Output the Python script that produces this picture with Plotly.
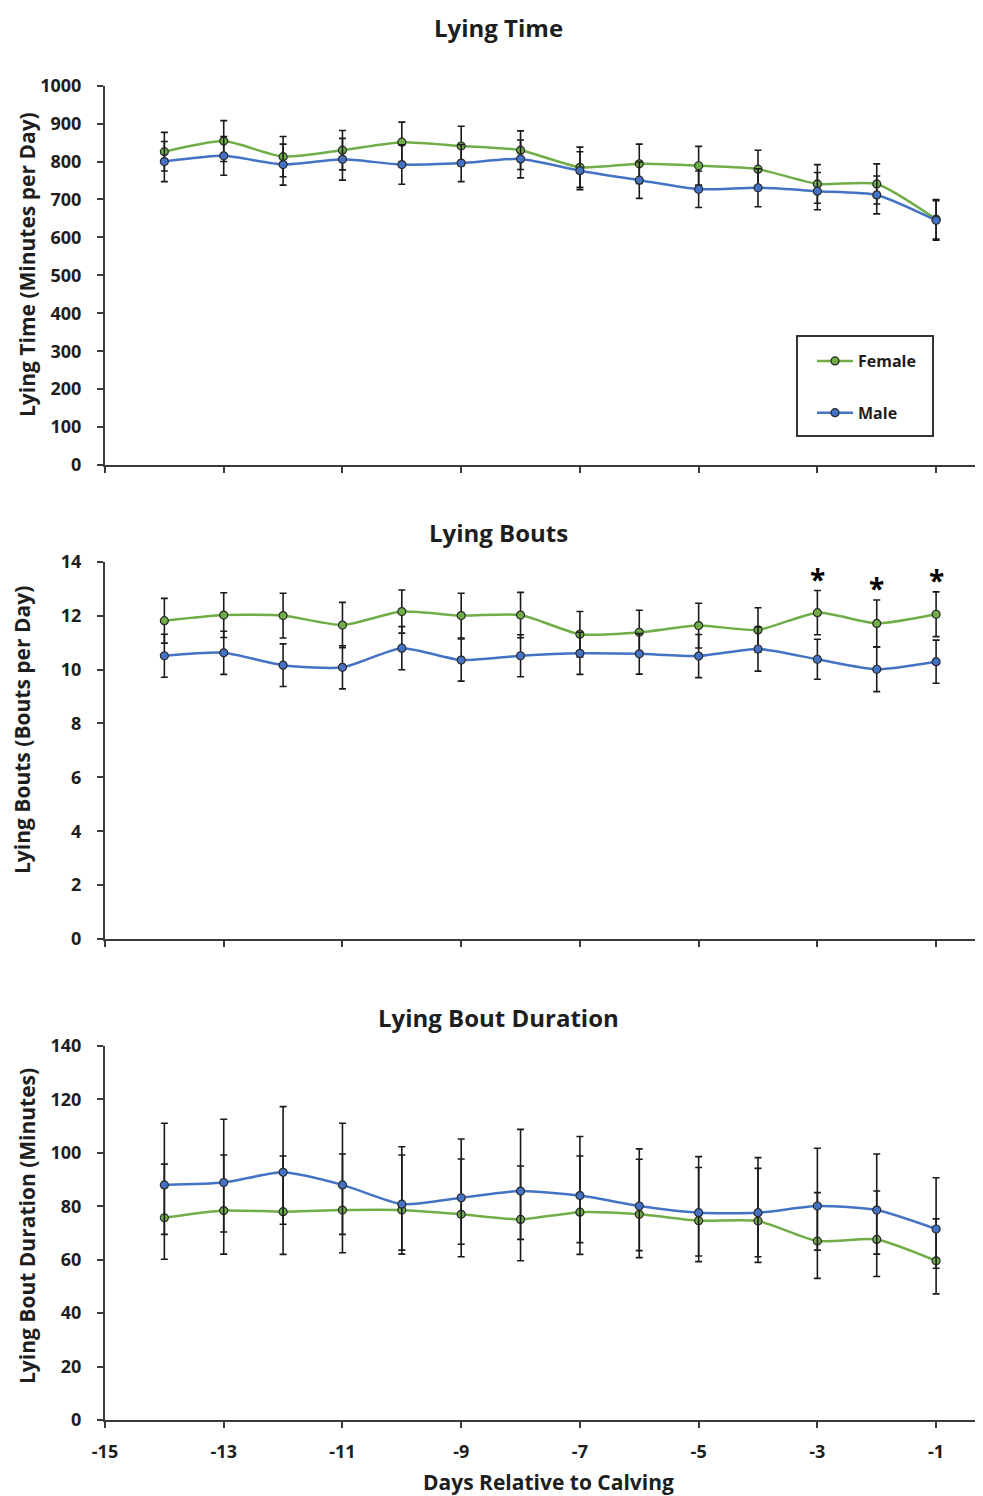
import plotly.graph_objects as go

days = [-14, -13, -12, -11, -10, -9, -8, -7, -6, -5, -4, -3, -2, -1]

# Lying time (minutes per day)
lt_female = [826, 854, 813, 830, 851, 841, 830, 785, 794, 789, 780, 741, 741, 648]
lt_female_se = [51, 54, 53, 52, 53, 52, 51, 53, 52, 51, 50, 51, 53, 52]
lt_male = [800, 815, 792, 806, 792, 796, 807, 776, 751, 727, 731, 722, 712, 645]
lt_male_se = [53, 51, 54, 55, 52, 49, 50, 50, 48, 48, 50, 49, 50, 52]

# Lying bouts (bouts per day)
lb_female = [11.81, 12.02, 12.00, 11.65, 12.15, 12.00, 12.02, 11.31, 11.38, 11.63, 11.47, 12.11, 11.71, 12.05]
lb_female_se = [0.83, 0.83, 0.83, 0.84, 0.80, 0.83, 0.84, 0.84, 0.82, 0.83, 0.82, 0.82, 0.87, 0.83]
lb_male = [10.51, 10.62, 10.16, 10.08, 10.79, 10.35, 10.51, 10.60, 10.58, 10.50, 10.76, 10.38, 10.01, 10.29]
lb_male_se = [0.80, 0.80, 0.79, 0.80, 0.80, 0.78, 0.78, 0.78, 0.75, 0.80, 0.82, 0.74, 0.83, 0.80]
sig_days = [-3, -2, -1]

# Lying bout duration (minutes), with asymmetric interval bounds
bd_female = [75.7, 78.4, 78.0, 78.6, 78.6, 77.0, 75.1, 77.8, 77.0, 74.6, 74.5, 67.0, 67.6, 59.6]
bd_female_upper = [95.8, 99.2, 98.8, 99.6, 99.2, 97.7, 95.1, 98.8, 97.6, 94.5, 94.2, 85.1, 85.7, 75.3]
bd_female_lower = [60.2, 62.1, 62.0, 62.6, 62.1, 61.1, 59.6, 62.0, 60.8, 59.3, 59.0, 53.0, 53.7, 47.2]
bd_male = [88.0, 88.9, 92.7, 88.0, 80.8, 83.2, 85.7, 84.0, 80.1, 77.6, 77.6, 80.1, 78.6, 71.5]
bd_male_upper = [111.1, 112.6, 117.3, 111.1, 102.3, 105.2, 108.8, 106.1, 101.5, 98.6, 98.2, 101.7, 99.6, 90.7]
bd_male_lower = [69.5, 70.4, 73.3, 69.5, 63.6, 65.8, 67.6, 66.4, 63.4, 61.4, 61.1, 63.6, 62.1, 56.8]

x_ticks = [-15, -13, -11, -9, -7, -5, -3, -1]
x_tick_labels = ["-15", "-13", "-11", "-9", "-7", "-5", "-3", "-1"]

GREEN = "#70AD47"
BLUE = "#4472C4"
AXIS = "#3a3a3a"
TXT = "#1e1e1e"
FONT = "Open Sans"

OFF = 8  # page body margin
W, H = 983 - OFF, 1496 - OFF


def px(x):
    return (x - OFF) / W


def py(y):
    return 1 - (y - OFF) / H


fig = go.Figure()


def add_series(xa, ya, y, plus, minus, color, name, show):
    fig.add_trace(go.Scatter(
        x=days, y=y, name=name, xaxis=xa, yaxis=ya,
        mode="lines+markers", line=dict(color=color, width=2.5, shape="spline", smoothing=0.6),
        marker=dict(size=8, color=color, line=dict(color="#2b2b2b", width=1.2)),
        error_y=dict(type="data", array=plus, arrayminus=minus, symmetric=False,
                     color="#1a1a1a", thickness=1.6, width=3.5),
        showlegend=show, legendgroup=name, cliponaxis=False,
    ))


add_series("x", "y", lt_female, lt_female_se, lt_female_se, GREEN, "Female", True)
add_series("x", "y", lt_male, lt_male_se, lt_male_se, BLUE, "Male", True)
add_series("x2", "y2", lb_female, lb_female_se, lb_female_se, GREEN, "Female", False)
add_series("x2", "y2", lb_male, lb_male_se, lb_male_se, BLUE, "Male", False)
add_series("x3", "y3", bd_female,
           [u - v for u, v in zip(bd_female_upper, bd_female)],
           [v - l for v, l in zip(bd_female, bd_female_lower)], GREEN, "Female", False)
add_series("x3", "y3", bd_male,
           [u - v for u, v in zip(bd_male_upper, bd_male)],
           [v - l for v, l in zip(bd_male, bd_male_lower)], BLUE, "Male", False)

xdom = [px(105), 1.0]
xcommon = dict(range=[-15, -0.21], tickvals=x_ticks, ticktext=x_tick_labels,
               showline=True, linecolor=AXIS, linewidth=2,
               ticks="outside", ticklen=6, tickwidth=1.5, tickcolor=AXIS, showgrid=False,
               zeroline=False, domain=xdom, automargin=False)
ycommon = dict(showline=True, linecolor=AXIS, linewidth=2, ticks="outside", ticklen=6,
               tickwidth=1.5, tickcolor=AXIS, showgrid=False, zeroline=False,
               ticklabelstandoff=12, automargin=False)

fig.update_layout(
    xaxis=dict(xcommon, anchor="y", showticklabels=False),
    xaxis2=dict(xcommon, anchor="y2", showticklabels=False),
    xaxis3=dict(xcommon, anchor="y3", showticklabels=True, ticklabelstandoff=8),
    yaxis=dict(ycommon, anchor="x", range=[0, 1000], dtick=100,
               domain=[py(465), py(85.7)]),
    yaxis2=dict(ycommon, anchor="x2", range=[0, 14], dtick=2,
                domain=[py(939), py(561.7)]),
    yaxis3=dict(ycommon, anchor="x3", range=[0, 140], dtick=20,
                domain=[py(1420), py(1046)]),
)

annotations = []
for txt, ycen in [("Lying Time", 27), ("Lying Bouts", 532), ("Lying Bout Duration", 1018)]:
    annotations.append(dict(text=txt, x=px(498), y=py(ycen), xref="paper", yref="paper",
                            showarrow=False, xanchor="center", yanchor="middle",
                            font=dict(size=24, family=FONT, color=TXT, weight="bold")))
for txt, xc, yc in [("Lying Time (Minutes per Day)", 27, 265),
                    ("Lying Bouts (Bouts per Day)", 22, 730),
                    ("Lying Bout Duration (Minutes)", 27, 1226)]:
    annotations.append(dict(text=txt, x=px(xc), y=py(yc), xref="paper", yref="paper",
                            showarrow=False, textangle=-90, xanchor="center", yanchor="middle",
                            font=dict(size=21, family=FONT, color=TXT, weight="bold")))
annotations.append(dict(text="Days Relative to Calving", x=px(548), y=py(1482), xref="paper",
                        yref="paper", showarrow=False, xanchor="center", yanchor="middle",
                        font=dict(size=21, family=FONT, color=TXT, weight="bold")))
for d in sig_days:
    i = days.index(d)
    annotations.append(dict(text="*", x=d, y=lb_female[i] + lb_female_se[i], xref="x2", yref="y2",
                            showarrow=False, xanchor="center", yanchor="bottom", yshift=-9,
                            font=dict(size=28, family=FONT, color="#000000", weight="bold")))

# legend frame
shapes = [dict(type="rect", xref="paper", yref="paper", x0=px(797), x1=px(933),
               y0=py(436), y1=py(336), line=dict(color="#333333", width=2))]

fig.update_layout(
    width=W, height=H,
    margin=dict(l=0, r=0, t=0, b=0),
    paper_bgcolor="white", plot_bgcolor="white",
    font=dict(family=FONT, size=18, color=TXT, weight="bold"),
    annotations=annotations,
    shapes=shapes,
    legend=dict(x=px(804), y=py(344), xanchor="left", yanchor="top",
                borderwidth=0, bgcolor="rgba(0,0,0,0)",
                font=dict(size=16, family=FONT, color=TXT, weight="bold"),
                tracegroupgap=28, itemwidth=36, indentation=8),
)

fig.write_html("out.html")
